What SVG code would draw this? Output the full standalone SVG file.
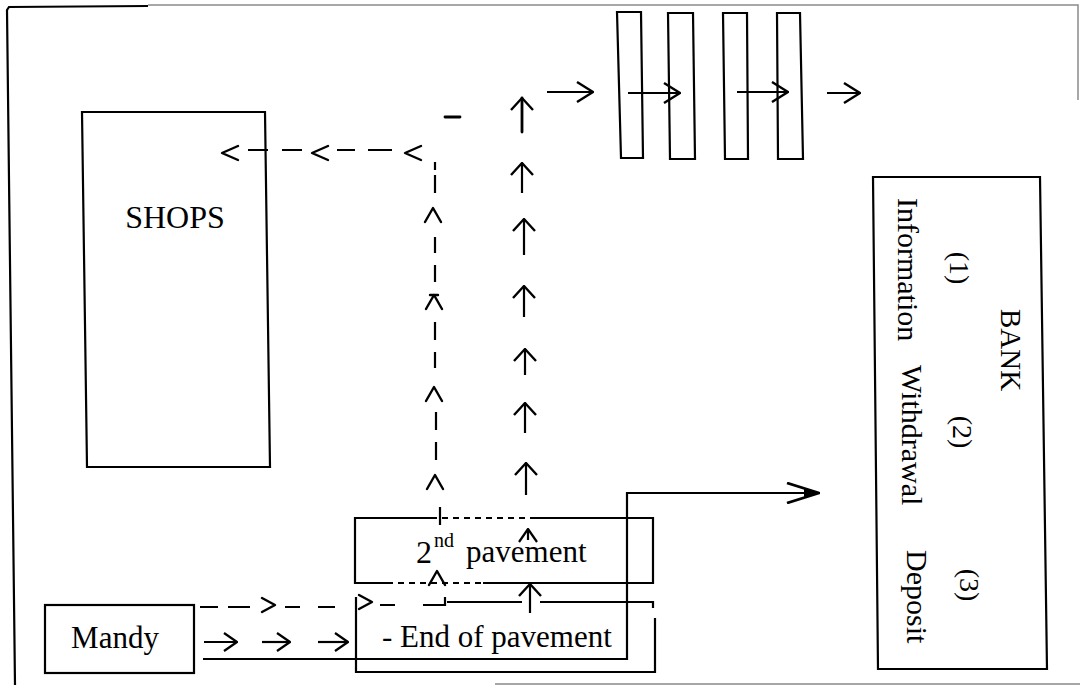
<svg xmlns="http://www.w3.org/2000/svg" xmlns:xlink="http://www.w3.org/1999/xlink" width="1080" height="685" viewBox="0 0 1080 685">
<style>
.bx{fill:none;stroke:#000;stroke-width:2.2;stroke-linejoin:miter}
.ln{fill:none;stroke:#000;stroke-width:2.2}
.th{fill:none;stroke:#000;stroke-width:2.8;stroke-linecap:round}
.ds{fill:none;stroke:#000;stroke-width:2;stroke-dasharray:6 5}
.fr{fill:none;stroke:#000;stroke-width:2.2}
.gr{fill:none;stroke:#8a8a8a;stroke-width:1.5}
.ch{fill:none;stroke:#000;stroke-width:2.4;stroke-linecap:round;stroke-linejoin:round}
.t{font-family:"Liberation Serif","Times New Roman",serif;font-size:31px;fill:#000}
</style>
<defs>
<marker id="ah" viewBox="0 0 14 24" refX="13" refY="12" markerWidth="14" markerHeight="24" markerUnits="userSpaceOnUse" orient="auto">
<path d="M1,1 L13,12 L1,23" fill="none" stroke="#000" stroke-width="2.4" stroke-linejoin="round"/>
</marker>
<marker id="ahs" viewBox="0 0 15 20" refX="14" refY="10" markerWidth="15" markerHeight="20" markerUnits="userSpaceOnUse" orient="auto">
<path d="M1,1 L14,10 L1,19" fill="none" stroke="#000" stroke-width="2.2" stroke-linejoin="round"/>
</marker>
<marker id="ahm" viewBox="0 0 18 22" refX="17" refY="11" markerWidth="18" markerHeight="22" markerUnits="userSpaceOnUse" orient="auto">
<path d="M1,1 L17,11 L1,21" fill="none" stroke="#000" stroke-width="2.4" stroke-linejoin="round"/>
</marker>
<marker id="ahb" viewBox="0 0 34 22" refX="33" refY="11" markerWidth="34" markerHeight="22" markerUnits="userSpaceOnUse" orient="auto">
<path d="M1,1 L33,11 L1,21" fill="none" stroke="#000" stroke-width="2.8" stroke-linejoin="round"/>
<path d="M18,7 L33,11 L18,15 Z" fill="#000"/>
</marker>
<path id="caret" class="ch" d="M-8,7 L0,-7 L8,7"/>
<path id="lt" class="ch" d="M16,-7 L0,0 L16,7"/>
<path id="gt" class="ch" d="M-13,-7 L0,0 L-13,7"/>
</defs>
<rect width="1080" height="685" fill="#fff"/>

<g id="frame">
<path class="fr" d="M15,685 L7,10 L9,7 L148,6"/>
<path class="gr" d="M148,5 L1078,5 L1078,100"/>
<path class="gr" d="M495,684 L1080,684"/>
</g>

<g id="shops">
<polygon class="bx" points="82,112 265,112 270,467 87,467"/>
<text class="t" x="175" y="228" text-anchor="middle" style="font-size:32px">SHOPS</text>
</g>

<g id="gates">
<polygon class="bx" points="617,12 641,12 643,158 621,158"/>
<polygon class="bx" points="668,13 693,13 695,159 670,159"/>
<polygon class="bx" points="723,13 747,13 748,159 725,159"/>
<polygon class="bx" points="777,13 800,13 803,159 778,159"/>
</g>

<g id="bank">
<polygon class="bx" points="873,177 1040,177 1047,669 878,669"/>
<text class="t" transform="translate(1001,350) rotate(90)" text-anchor="middle" style="font-size:29px">BANK</text>
<text class="t" transform="translate(898,198) rotate(90)" style="font-size:30px">Information</text>
<text class="t" transform="translate(902,365) rotate(90)" style="font-size:30px">Withdrawal</text>
<text class="t" transform="translate(907,550) rotate(90)" style="font-size:30px">Deposit</text>
<text class="t" transform="translate(950,268) rotate(90)" text-anchor="middle" style="font-size:28px">(1)</text>
<text class="t" transform="translate(953,432) rotate(90)" text-anchor="middle" style="font-size:28px">(2)</text>
<text class="t" transform="translate(960,585) rotate(90)" text-anchor="middle" style="font-size:28px">(3)</text>
</g>

<g id="mandy">
<rect class="bx" x="45" y="605" width="149" height="68"/>
<text class="t" x="115" y="648" text-anchor="middle">Mandy</text>
</g>

<g id="pavement2">
<path class="ln" d="M437,518 L355,518 L355,583 L387,583"/>
<path class="ds" d="M442,518 L530,518"/>
<path class="ln" d="M530,518 L653,518 L653,583 L483,583"/>
<path class="ds" d="M387,583 L483,583"/>
<text class="t" x="416" y="563" style="font-size:32px">2</text>
<text class="t" x="434" y="547" style="font-size:20px">nd</text>
<text class="t" x="466" y="562">pavement</text>
</g>

<g id="end-pavement">
<path class="ln" d="M356,597 L356,672 L655,672 L655,618"/>
<path class="ln" d="M447,602 L522,602 M540,602 L653,602 L653,608"/>
<text class="t" x="382" y="647">- End of pavement</text>
</g>

<g id="connectors">
<line class="ln" x1="547" y1="92" x2="593" y2="92" marker-end="url(#ahm)"/>
<line class="ln" x1="628" y1="93" x2="680" y2="93" marker-end="url(#ahm)"/>
<line class="ln" x1="737" y1="92" x2="788" y2="92" marker-end="url(#ahm)"/>
<line class="ln" x1="827" y1="93" x2="860" y2="93" marker-end="url(#ahm)"/>
<line class="th" x1="445" y1="117" x2="460" y2="117"/>

<line class="th" x1="522" y1="132" x2="522" y2="98" marker-end="url(#ah)"/>
<line class="ln" x1="522" y1="193" x2="522" y2="163" marker-end="url(#ah)"/>
<line class="ln" x1="524" y1="255" x2="524" y2="219" marker-end="url(#ah)"/>
<line class="ln" x1="524" y1="317" x2="524" y2="286" marker-end="url(#ah)"/>
<line class="ln" x1="525" y1="375" x2="525" y2="349" marker-end="url(#ah)"/>
<line class="ln" x1="525" y1="433" x2="525" y2="403" marker-end="url(#ah)"/>
<line class="ln" x1="526" y1="495" x2="526" y2="463" marker-end="url(#ah)"/>
<line class="ln" x1="528" y1="540" x2="528" y2="529" marker-end="url(#ahs)"/>
<line class="ln" x1="530" y1="613" x2="530" y2="584" marker-end="url(#ah)"/>

<path class="ln" d="M435,162 L435,170 M435,175 L435,193 M435,237 L435,253 M435,265 L435,282 M435,322 L435,340 M435,352 L435,368 M436,412 L436,430 M436,442 L436,460 M440,507 L440,525"/>
<use xlink:href="#caret" x="433" y="215"/>
<use xlink:href="#caret" x="434" y="302"/>
<line class="ch" x1="430" y1="295" x2="438" y2="295"/>
<use xlink:href="#caret" x="434" y="394"/>
<use xlink:href="#caret" x="435" y="482"/>
<use xlink:href="#caret" x="437" y="578"/>
<path class="ln" d="M248,150 L268,150 M282,150 L302,150 M337,150 L355,150 M368,150 L392,150"/>
<use xlink:href="#lt" x="222" y="153"/>
<use xlink:href="#lt" x="312" y="153"/>
<use xlink:href="#lt" x="405" y="153"/>

<path class="ln" d="M200,607 L218,607 M228,607 L250,607 M285,607 L300,607 M318,607 L335,607 M380,605 L395,605 M423,605 L445,605 L445,597"/>
<use xlink:href="#gt" x="275" y="605"/>
<use xlink:href="#gt" x="372" y="602"/>

<line class="ln" x1="204" y1="642" x2="237" y2="642" marker-end="url(#ahs)"/>
<line class="ln" x1="262" y1="642" x2="290" y2="642" marker-end="url(#ahs)"/>
<line class="ln" x1="318" y1="642" x2="348" y2="642" marker-end="url(#ahs)"/>

<path class="ln" d="M203,659 L627,659 L627,493 L819,493" marker-end="url(#ahb)"/>
</g>
</svg>
